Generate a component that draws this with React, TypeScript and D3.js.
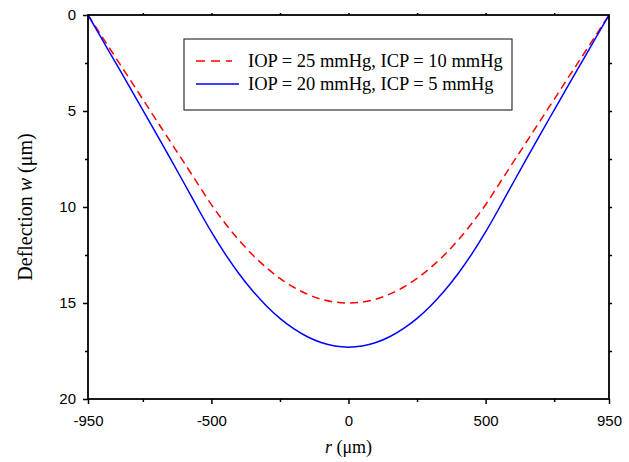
import { useRef, useEffect } from "react";
import * as d3 from "d3";

// radial position r (um)
const radius = [
  -950, -900, -850, -800, -750, -700, -650, -600, -550, -500, -450, -400, -350,
  -300, -250, -200, -150, -100, -50, 0, 50, 100, 150, 200, 250, 300, 350, 400,
  450, 500, 550, 600, 650, 700, 750, 800, 850, 900, 950,
];

// IOP = 25 mmHg, ICP = 10 mmHg
const deflectionA = [
  0, 1.1, 2.2, 3.29, 4.39, 5.49, 6.59, 7.68, 8.78, 9.88, 10.85, 11.72, 12.49,
  13.15, 13.72, 14.18, 14.54, 14.8, 14.95, 15.0, 14.95, 14.8, 14.54, 14.18,
  13.72, 13.15, 12.49, 11.72, 10.85, 9.88, 8.78, 7.68, 6.59, 5.49, 4.39, 3.29,
  2.2, 1.1, 0,
];

// IOP = 20 mmHg, ICP = 5 mmHg
const deflectionB = [
  0, 1.23, 2.47, 3.7, 4.95, 6.2, 7.47, 8.75, 10.05, 11.3, 12.44, 13.46, 14.36,
  15.14, 15.8, 16.34, 16.76, 17.06, 17.24, 17.3, 17.24, 17.06, 16.76, 16.34,
  15.8, 15.14, 14.36, 13.46, 12.44, 11.3, 10.05, 8.75, 7.47, 6.2, 4.95, 3.7,
  2.47, 1.23, 0,
];

const seriesNames = [
  "IOP = 25 mmHg, ICP = 10 mmHg",
  "IOP = 20 mmHg, ICP = 5 mmHg",
];

const xMajor = [-950, -500, 0, 500, 950];
const xMinor = [-750, -250, 250, 750];
const yMajor = [0, 5, 10, 15, 20];
const yMinor = [2.5, 7.5, 12.5, 17.5];

const W = 629;
const H = 462;
const SANS = "'Liberation Sans', Arial, sans-serif";
const SERIF = "'Liberation Serif', 'Times New Roman', serif";

export default function App() {
  const ref = useRef<SVGSVGElement>(null);

  useEffect(() => {
    const svg = d3.select(ref.current);
    svg.selectAll("*").remove();

    const left = 88;
    const right = 609;
    const top = 15;
    const bottom = 399;

    const x = d3.scaleLinear().domain([-950, 950]).range([left, right]);
    const y = d3.scaleLinear().domain([0, 20]).range([top, bottom]);
    const fmt = (d: any) => String(d); // plain hyphen, like the original

    const styleAxis = (g: any) => {
      g.select(".domain").remove();
      g.selectAll("line").attr("stroke", "#000").attr("stroke-width", 1.5);
      g.selectAll("text")
        .attr("font-family", SANS)
        .attr("font-size", 15)
        .attr("fill", "#000");
    };

    // bottom axis
    svg
      .append("g")
      .attr("transform", `translate(0,${bottom})`)
      .call(d3.axisBottom(x).tickValues(xMajor).tickFormat(fmt).tickSize(5).tickPadding(11).tickSizeOuter(0))
      .call(styleAxis);
    svg
      .append("g")
      .attr("transform", `translate(0,${bottom})`)
      .call(d3.axisBottom(x).tickValues(xMinor).tickSize(3).tickFormat(() => "").tickSizeOuter(0))
      .call(styleAxis);

    // top axis
    svg
      .append("g")
      .attr("transform", `translate(0,${top})`)
      .call(d3.axisTop(x).tickValues([...xMinor, -500, 0, 500]).tickSize(2).tickFormat(() => "").tickSizeOuter(0))
      .call(styleAxis);

    // left axis
    svg
      .append("g")
      .attr("transform", `translate(${left},0)`)
      .call(d3.axisLeft(y).tickValues(yMajor).tickFormat(fmt).tickSize(5).tickPadding(7).tickSizeOuter(0))
      .call(styleAxis);
    svg
      .append("g")
      .attr("transform", `translate(${left},0)`)
      .call(d3.axisLeft(y).tickValues(yMinor).tickSize(3).tickFormat(() => "").tickSizeOuter(0))
      .call(styleAxis);

    // right axis
    svg
      .append("g")
      .attr("transform", `translate(${right},0)`)
      .call(d3.axisRight(y).tickValues([...yMinor, 5, 10, 15]).tickSize(3).tickFormat(() => "").tickSizeOuter(0))
      .call(styleAxis);

    // curves
    const line = d3
      .line<number>()
      .x((_, i) => x(radius[i]))
      .y((d) => y(d))
      .curve(d3.curveMonotoneX);

    svg
      .append("path")
      .attr("d", line(deflectionA))
      .attr("fill", "none")
      .attr("stroke", "#ff0000")
      .attr("stroke-width", 1.5)
      .attr("stroke-dasharray", "8,5");

    svg
      .append("path")
      .attr("d", line(deflectionB))
      .attr("fill", "none")
      .attr("stroke", "#0000ff")
      .attr("stroke-width", 1.5);

    // frame
    svg
      .append("rect")
      .attr("x", left)
      .attr("y", top)
      .attr("width", right - left)
      .attr("height", bottom - top)
      .attr("fill", "none")
      .attr("stroke", "#000")
      .attr("stroke-width", 1.8);

    // axis titles
    const xt = svg
      .append("text")
      .attr("x", (left + right) / 2)
      .attr("y", 453)
      .attr("text-anchor", "middle")
      .attr("font-family", SERIF)
      .attr("font-size", 18);
    xt.append("tspan").attr("font-style", "italic").text("r");
    xt.append("tspan").text(" (μm)");

    const yt = svg
      .append("text")
      .attr("transform", `translate(32,${(top + bottom) / 2}) rotate(-90)`)
      .attr("text-anchor", "middle")
      .attr("font-family", SERIF)
      .attr("font-size", 20);
    yt.append("tspan").text("Deflection ");
    yt.append("tspan").attr("font-style", "italic").text("w");
    yt.append("tspan").text(" (μm)");

    // legend
    const lg = svg.append("g");
    lg.append("rect")
      .attr("x", 184)
      .attr("y", 39)
      .attr("width", 328)
      .attr("height", 71)
      .attr("fill", "#fff")
      .attr("stroke", "#333")
      .attr("stroke-width", 1.2);
    const colors = ["#ff0000", "#0000ff"];
    const dashes = ["9,6", null];
    seriesNames.forEach((name, i) => {
      const cy = 61 + i * 23;
      lg.append("line")
        .attr("x1", 196)
        .attr("x2", i === 0 ? 232 : 239)
        .attr("y1", cy)
        .attr("y2", cy)
        .attr("stroke", colors[i])
        .attr("stroke-width", 1.5)
        .attr("stroke-dasharray", dashes[i]);
      lg.append("text")
        .attr("x", 248)
        .attr("y", cy + 6)
        .attr("font-family", SERIF)
        .attr("font-size", 18.5)
        .text(name);
    });
  }, []);

  return (
    <svg
      ref={ref}
      width={W}
      height={H}
      style={{ position: "absolute", left: 0, top: 0, background: "#fff" }}
    />
  );
}
